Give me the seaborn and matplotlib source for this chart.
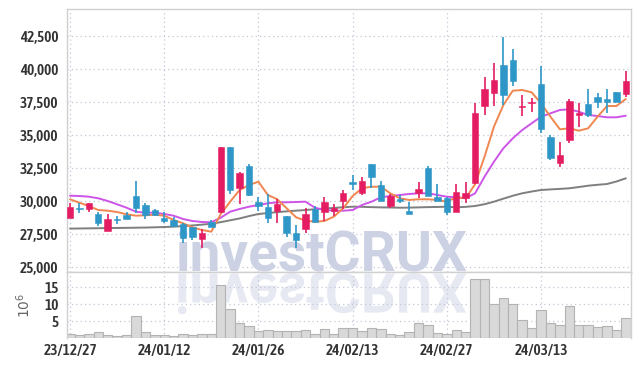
import numpy as np
import pandas as pd
import matplotlib
matplotlib.use("Agg")
import matplotlib.pyplot as plt
import seaborn as sns
from matplotlib import font_manager
from matplotlib.textpath import TextPath
from matplotlib.patches import PathPatch
from matplotlib.font_manager import FontProperties
from matplotlib.transforms import Affine2D
import sys

# ---------------- data ----------------
tick_pos = [0, 10, 20, 30, 40, 50]
tick_labels = ["23/12/27", "24/01/12", "24/01/26", "24/02/13", "24/02/27", "24/03/13"]

opens = [28712, 29470, 29390, 29015, 27773, 28650, 28962, 30402, 29720, 29340,
         28712, 28583, 28280, 28030, 27144, 28455, 29212, 34091, 30985, 32674,
         29970, 29591, 29288, 28886, 27576, 27879, 29417, 29212, 29265, 30045,
         31485, 30606, 32826, 31235, 29644, 30174, 29288, 30606, 32546, 30303,
         30227, 29167, 30227, 31409, 37243, 38182, 40326, 40705, 37140, 37424,
         38887, 34894, 32879, 34644, 36600, 37348, 37879, 37750, 38258, 38106]
highs = [29848, 29850, 29870, 29210, 29015, 28909, 29210, 31538, 29848, 29394,
         29160, 28834, 28333, 28030, 27924, 28583, 34100, 34100, 32197, 32826,
         30300, 30530, 30152, 28900, 28204, 29470, 29667, 30349, 29773, 30856,
         31992, 31818, 32830, 31560, 30553, 30477, 29970, 31485, 32674, 31288,
         30349, 31288, 31485, 37470, 39440, 40455, 42424, 41515, 38053, 37848,
         40273, 35023, 34515, 37750, 37470, 38485, 38182, 38485, 38300, 39871]
lows = [28712, 29140, 29210, 28150, 27773, 28258, 28636, 29091, 28636, 28900,
        28379, 28030, 26863, 27070, 26440, 28030, 29100, 30530, 29795, 30400,
        29288, 28333, 28379, 27318, 26440, 27576, 28455, 28530, 28886, 29417,
        30856, 30477, 30985, 30045, 29470, 29848, 29015, 30227, 30402, 30000,
        28940, 29167, 29900, 31300, 36538, 37220, 37296, 38735, 36462, 36788,
        35152, 33129, 32576, 34439, 35652, 36364, 37045, 36667, 37546, 37924]
closes = [29545, 29440, 29850, 28379, 28636, 28620, 28636, 29515, 28962, 28962,
          28508, 28129, 27242, 27318, 27621, 28030, 34091, 30856, 32121, 30477,
          29667, 28758, 29773, 27576, 27070, 29038, 28455, 29924, 29470, 30606,
          31288, 31538, 31864, 30045, 30402, 30023, 29015, 30909, 30402, 30045,
          29212, 30682, 30652, 36667, 38485, 39190, 38053, 39137, 37190, 37546,
          35455, 33258, 33508, 37599, 36640, 36538, 37546, 37546, 37546, 39114]
volume_m = [1.3, 1.0, 1.3, 1.7, 1.0, 0.7, 1.0, 6.6, 1.7, 1.0,
            1.0, 0.7, 1.3, 1.0, 1.3, 1.3, 15.7, 8.6, 4.5, 3.6,
            2.0, 2.3, 2.0, 2.0, 2.0, 2.3, 1.3, 2.6, 1.3, 3.1,
            3.1, 2.0, 3.1, 2.6, 1.3, 1.0, 1.7, 4.3, 3.7, 1.6,
            1.3, 2.3, 1.7, 17.6, 17.6, 10.0, 11.8, 10.0, 5.2, 3.1,
            8.3, 4.5, 3.9, 9.6, 3.9, 3.9, 3.3, 3.6, 2.3, 6.0]
ma_short = [30150, 29894, 29644, 29340, 29288, 29190, 29015, 28909, 28939, 28985,
            28909, 28583, 28333, 28030, 27826, 27700, 29038, 29970, 30856, 31235,
            31485, 30477, 30152, 29470, 28788, 28530, 28455, 28508, 28834, 29470,
            30400, 30985, 31106, 31106, 30606, 30227, 30100, 30152, 30152, 30100,
            29970, 30303, 30227, 31300, 33379, 35652, 37296, 38379, 38432, 38258,
            37424, 36410, 35455, 35530, 35349, 35530, 36410, 37220, 37220, 37750]
ma_mid = [30424, 30400, 30350, 30227, 30023, 29773, 29515, 29212, 29136, 29136,
          29038, 28909, 28659, 28508, 28432, 28409, 28758, 29212, 29417, 29591,
          29720, 29848, 29924, 29924, 29947, 29970, 29515, 29340, 29288, 29288,
          29340, 29720, 29970, 30303, 30400, 30477, 30553, 30606, 30606, 30477,
          30350, 30303, 30227, 30606, 31864, 33000, 34015, 34773, 35400, 35909,
          36410, 36667, 36917, 36970, 36788, 36538, 36462, 36364, 36364, 36485]
ma_long = [27930, 27940, 27950, 27960, 27970, 27980, 27990, 28000, 28010, 28030,
           28050, 28080, 28120, 28170, 28230, 28300, 28420, 28560, 28700, 28880,
           29038, 29110, 29180, 29240, 29290, 29340, 29400, 29450, 29500, 29550,
           29591, 29580, 29560, 29540, 29530, 29515, 29520, 29540, 29560, 29570,
           29591, 29545, 29580, 29644, 29780, 29970, 30200, 30420, 30606, 30740,
           30856, 30900, 30940, 30985, 31080, 31182, 31250, 31310, 31500, 31742]

# ---------------- style ----------------
sns.set_theme(style="white")
plt.rcParams["font.family"] = ["DejaVu Sans"]

# look for an installed condensed / narrow font for the tick labels
cands = []
for f in font_manager.fontManager.ttflist:
    nm = (f.name + " " + f.fname).lower()
    narrow = ("narrow" in nm) or ("condensed" in nm) or (str(f.stretch) not in ("normal", "400", "500"))
    if narrow and "mono" not in nm and "serif" not in f.name.lower():
        cands.append(f)
sys.stderr.write("\n".join(sorted(set(f"{f.name}|{f.stretch}|{f.weight}|{f.fname}" for f in cands))) + "\n")


def pick(cands):
    best = None
    for f in cands:
        w = f.weight if isinstance(f.weight, int) else {"bold": 700, "normal": 400, "regular": 400,
                                                        "semibold": 600, "medium": 500}.get(str(f.weight), 400)
        if "italic" in f.fname.lower() or f.style != "normal":
            continue
        if "extra" in f.fname.lower() or "ultra" in f.fname.lower() or "semicondensed" in f.fname.lower():
            continue
        score = abs(w - 600)
        if best is None or score < best[0]:
            best = (score, f)
    return best[1] if best else None


chosen = pick(cands)
if chosen is not None:
    TICK_FP = FontProperties(fname=chosen.fname, size=11)
else:
    TICK_FP = FontProperties(family="Roboto", weight="bold", size=9)

RED = "#e41d62"
BLUE = "#2f97c7"
GRID = "#c3c7d8"
SPINE = "#d0d0d0"

n = len(closes)
idx = np.arange(n)
df = pd.DataFrame({"idx": idx, "open": opens, "high": highs, "low": lows,
                   "close": closes, "vol": volume_m,
                   "ma_s": ma_short, "ma_m": ma_mid, "ma_l": ma_long})

fig = plt.figure(figsize=(6.39, 3.66), dpi=100)
ax1 = fig.add_axes([0.1044, 0.256, 0.8831, 0.7194])
ax2 = fig.add_axes([0.1044, 0.0765, 0.8831, 0.1795], sharex=ax1)

# watermark
ax1.text(0.192, 0.008, "investCRUX", transform=ax1.transAxes, fontsize=39.6,
         family="Roboto", weight="bold", color="#ccd2e4", zorder=1, va="baseline")
fp = FontProperties(family="Roboto", weight="bold")
tp = TextPath((0, 0), "investCRUX", size=39.6, prop=fp)
refl = PathPatch(tp, transform=Affine2D().scale(1 / 72.0, -1 / 72.0).translate(1.75, 0.925)
                 + fig.dpi_scale_trans, facecolor="#e7e9f2", edgecolor="none", zorder=0.5)
ax2.add_artist(refl)
refl.set_clip_path(ax2.patch)

# moving averages
sns.lineplot(data=df, x="idx", y="ma_l", ax=ax1, color="#7f7f7f", lw=1.4, zorder=2)
sns.lineplot(data=df, x="idx", y="ma_m", ax=ax1, color="#cc55e8", lw=1.4, zorder=2)
sns.lineplot(data=df, x="idx", y="ma_s", ax=ax1, color="#f08650", lw=1.4, zorder=2)

# candles
o = df["open"].to_numpy(float)
c = df["close"].to_numpy(float)
up = c >= o
cols = np.where(up, RED, BLUE)
ax1.vlines(idx, df["low"], df["high"], colors=cols, lw=1.2, zorder=3)
minh = 110.0
diff = np.abs(c - o)
height = np.maximum(diff, minh)
bottom = np.where(diff < minh, (o + c) / 2 - minh / 2, np.minimum(o, c))
ax1.bar(idx, height, bottom=bottom, width=0.68, color=cols, edgecolor=cols,
        lw=0.4, zorder=4)

# volume
sns.barplot(data=df, x="idx", y="vol", ax=ax2, native_scale=True, width=1.0,
            color="#d9d9d9", edgecolor="#b3b3b3", linewidth=0.8, saturation=1, zorder=2)

# axes formatting
ax1.set_xlim(-0.35, 59.55)
ax1.set_ylim(24620, 44570)
yt = list(range(25000, 42501, 2500))
ax1.set_yticks(yt)
ax1.set_yticklabels([f"{v:,}" for v in yt])
ax1.set_xticks(tick_pos)
ax1.tick_params(axis="x", labelbottom=False, length=0)
ax1.tick_params(axis="y", length=0, pad=6, labelcolor="#333333")
ax1.set_xlabel("")
ax1.set_ylabel("")

ax2.set_ylim(0, 19.44)
ax2.set_yticks([5, 10, 15])
ax2.set_yticklabels(["5", "10", "15"])
ax2.set_xticks(tick_pos)
ax2.set_xticklabels(tick_labels)
ax2.tick_params(axis="both", length=0, labelcolor="#333333")
ax2.tick_params(axis="y", pad=6)
ax2.tick_params(axis="x", pad=4)
ax2.set_xlabel("")
ax2.set_ylabel(r"$10^{6}$", fontsize=10, color="#666666")
ax2.yaxis.set_label_coords(-0.06, 0.5)
ax2.set_xlim(-0.35, 59.55)

for ax in (ax1, ax2):
    ax.grid(True, linestyle=(0, (1, 2.5)), color=GRID, lw=0.9, zorder=0)
    ax.set_axisbelow(True)
    for s in ax.spines.values():
        s.set_color(SPINE)
        s.set_linewidth(1.0)
    for lbl in ax.get_xticklabels() + ax.get_yticklabels():
        lbl.set_fontproperties(TICK_FP)
ax2.spines["bottom"].set_visible(False)

fig.savefig("out.png", dpi=100)
